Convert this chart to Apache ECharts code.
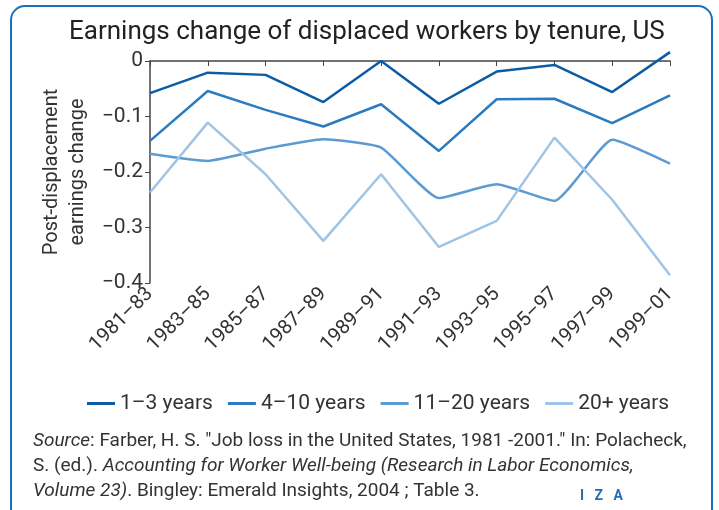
<!DOCTYPE html>
<html><head><meta charset="utf-8">
<script src="https://cdn.jsdelivr.net/npm/echarts@6/dist/echarts.min.js"></script>
<style>html,body{margin:0;padding:0;background:#fff}#c{width:719px;height:510px}</style>
</head><body><div id="c"></div>
<script>
const categories = ['1981–83','1983–85','1985–87','1987–89','1989–91','1991–93','1993–95','1995–97','1997–99','1999–01'];
const seriesNames = ['1–3 years','4–10 years','11–20 years','20+ years'];
const years1to3 = [-0.058,-0.021,-0.025,-0.074,0.0,-0.077,-0.019,-0.007,-0.056,0.016];
const years4to10 = [-0.144,-0.054,-0.088,-0.118,-0.078,-0.162,-0.069,-0.068,-0.112,-0.062];
const years11to20 = [-0.167,-0.180,-0.158,-0.141,-0.156,-0.247,-0.222,-0.252,-0.142,-0.185];
const years20plus = [-0.237,-0.111,-0.204,-0.324,-0.204,-0.335,-0.288,-0.138,-0.250,-0.386];
const colors = ['#0b5ca5','#2a7bbf','#5c9bd1','#9fc4e5'];

const chart = echarts.init(document.getElementById('c'));
const font = 'Roboto, "Liberation Sans", sans-serif';
const mk = (name, data, color, smooth) => ({
  name, type:'line', data, smooth: smooth||false, symbol:'none', clip:false,
  lineStyle:{color, width:2.5}, itemStyle:{color}
});
chart.setOption({
  animation:false,
  textStyle:{fontFamily:font},
  title:{text:'Earnings change of displaced workers by tenure, US', left:64, top:14,
    textStyle:{fontFamily:font, fontWeight:'normal', fontSize:26, color:'#222'}},
  grid:{left:150, right:49, top:61, bottom:227, containLabel:false},
  legend:{top:388, left:82, icon:'rect', itemWidth:28, itemHeight:3, itemGap:15,
    textStyle:{fontFamily:font, fontSize:21, color:'#333'}, data:seriesNames},
  xAxis:{type:'category', data:categories, boundaryGap:false,
    axisLine:{lineStyle:{color:'#444', width:1.5}},
    axisTick:{show:true, length:5, lineStyle:{color:'#444'}},
    axisLabel:{rotate:45, fontSize:20, color:'#333', margin:8, fontFamily:font}},
  yAxis:{type:'value', min:-0.4, max:0, interval:0.1,
    axisLine:{show:true, lineStyle:{color:'#444', width:1.5}},
    axisTick:{show:true, length:5, lineStyle:{color:'#444'}},
    splitLine:{show:false},
    axisLabel:{fontSize:21, color:'#333', margin:7, fontFamily:font,
      formatter:v => { const r = Math.round(v*10)/10; return r===0 ? '0' : String(r).replace('-','−'); }},
    name:'Post-displacement\nearnings change', nameLocation:'middle', nameGap:59, nameRotate:90,
    nameTextStyle:{fontSize:20, color:'#333', lineHeight:26, fontFamily:font}},
  series:[
    mk(seriesNames[0], years1to3, colors[0]),
    mk(seriesNames[1], years4to10, colors[1]),
    mk(seriesNames[2], years11to20, colors[2], 0.15),
    mk(seriesNames[3], years20plus, colors[3])
  ],
  graphic:[
    {type:'rect', shape:{x:11, y:6, width:701, height:520, r:14}, silent:true,
      style:{fill:null, stroke:'#1f70b8', lineWidth:2}},
    {type:'text', left:33, top:429, silent:true,
      style:{text:'{i|Source}: Farber, H. S. "Job loss in the United States, 1981 -2001." In: Polacheck,\nS. (ed.). {i|Accounting for Worker Well-being (Research in Labor Economics,}\n{i|Volume 23)}. Bingley: Emerald Insights, 2004 ; Table 3.',
        font:'19px ' + font, fill:'#333', lineHeight:25,
        rich:{i:{fontStyle:'italic', fontSize:19, fontFamily:font, fill:'#333'}}}},
    {type:'text', left:580, top:489, silent:true,
      style:{text:'I   Z   A', font:'bold 14px ' + font, fill:'#1f70b8'}}
  ]
});
</script></body></html>
